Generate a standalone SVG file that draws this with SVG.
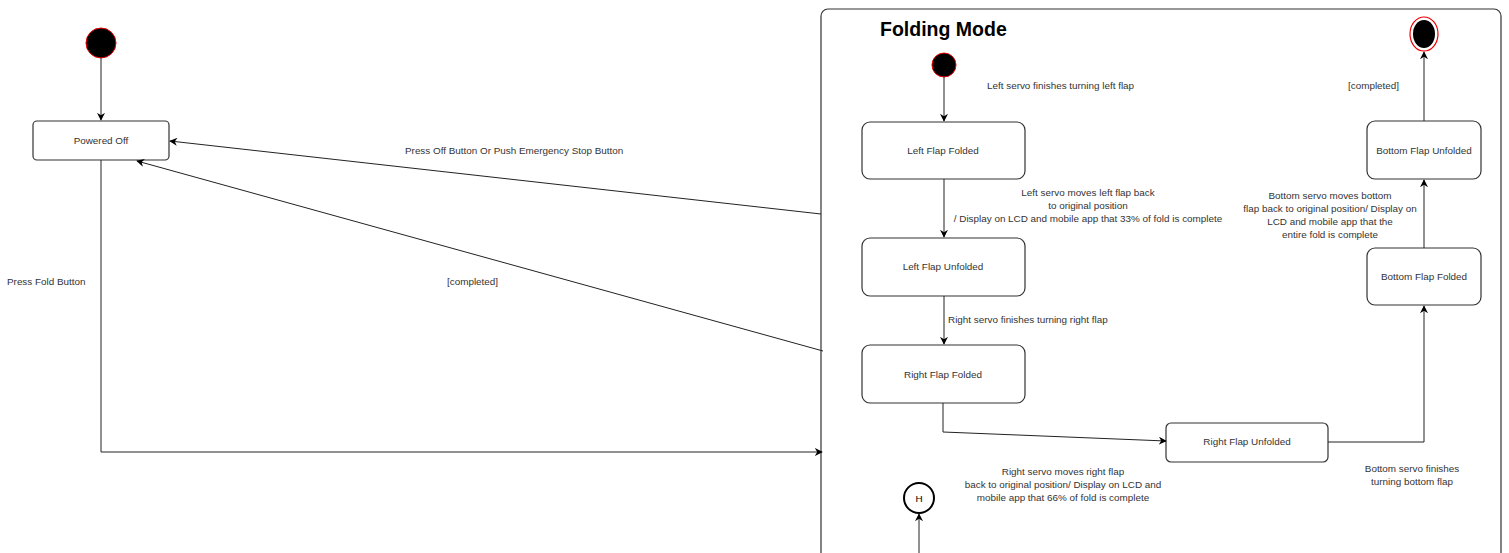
<svg xmlns="http://www.w3.org/2000/svg" width="1509" height="553" viewBox="0 0 1509 553">
<defs>
<marker id="ah" viewBox="0 0 10 10" refX="9" refY="5" markerWidth="8" markerHeight="8" markerUnits="userSpaceOnUse" orient="auto"><path d="M0,0 L10,5 L0,10 L3,5 Z" fill="#000"/></marker>
<style>
.st{fill:#fff;stroke:#333;stroke-width:1.2}
.t{font-family:"Liberation Sans",Arial,sans-serif;font-size:9.9px;fill:#333}
.c{text-anchor:middle}
.ln{fill:none;stroke:#222;stroke-width:1}
</style>
</defs>
<rect width="1509" height="553" fill="#fff"/>
<g id="folding-mode">
<rect x="821" y="9" width="680" height="560" rx="7" fill="#fff" stroke="#333" stroke-width="1.2"/>
<text x="880" y="36" font-family="Liberation Sans,Arial,sans-serif" font-size="19.5" font-weight="bold">Folding Mode</text>
</g>
<g id="init-outer"><circle cx="101" cy="43" r="15" fill="#000" stroke="#e00" stroke-width="1"/></g>
<g id="powered-off"><rect class="st" x="33" y="121" width="136" height="39" rx="4"/><text class="t c" x="101" y="144">Powered Off</text></g>
<g id="init-inner"><circle cx="944" cy="65" r="12" fill="#000" stroke="#e00" stroke-width="1"/></g>
<g id="left-flap-folded"><rect class="st" x="862" y="122" width="163" height="57" rx="8"/><text class="t c" x="943" y="154">Left Flap Folded</text></g>
<g id="left-flap-unfolded"><rect class="st" x="862" y="238" width="163" height="58" rx="8"/><text class="t c" x="943" y="270">Left Flap Unfolded</text></g>
<g id="right-flap-folded"><rect class="st" x="862" y="345" width="163" height="58" rx="8"/><text class="t c" x="943" y="378">Right Flap Folded</text></g>
<g id="right-flap-unfolded"><rect class="st" x="1166" y="423" width="162" height="39" rx="5"/><text class="t c" x="1247" y="445">Right Flap Unfolded</text></g>
<g id="bottom-flap-folded"><rect class="st" x="1367" y="248" width="114" height="57" rx="8"/><text class="t c" x="1424" y="280">Bottom Flap Folded</text></g>
<g id="bottom-flap-unfolded"><rect class="st" x="1367" y="121" width="114" height="58" rx="8"/><text class="t c" x="1424" y="154">Bottom Flap Unfolded</text></g>
<g id="final"><ellipse cx="1424" cy="34" rx="14" ry="17" fill="#fff" stroke="#e00" stroke-width="1.2"/><ellipse cx="1424" cy="34" rx="11" ry="14" fill="#000"/></g>
<g id="history"><circle cx="919" cy="498" r="15" fill="#fff" stroke="#000" stroke-width="2"/><text class="t c" x="919" y="502" style="fill:#000">H</text></g>
<g id="connectors">
<line class="ln" x1="101" y1="58" x2="101" y2="120" marker-end="url(#ah)"/>
<polyline class="ln" points="101,160 101,452 822,452" marker-end="url(#ah)"/>
<line class="ln" x1="821" y1="214" x2="170" y2="141" marker-end="url(#ah)"/>
<line class="ln" x1="823" y1="351" x2="137" y2="161" marker-end="url(#ah)"/>
<line class="ln" x1="944" y1="77" x2="944" y2="121" marker-end="url(#ah)"/>
<line class="ln" x1="944" y1="179" x2="944" y2="237" marker-end="url(#ah)"/>
<line class="ln" x1="944" y1="296" x2="944" y2="344" marker-end="url(#ah)"/>
<polyline class="ln" points="943,403 943,432 1166,441" marker-end="url(#ah)"/>
<polyline class="ln" points="1328,442 1424,442 1424,306" marker-end="url(#ah)"/>
<line class="ln" x1="1424" y1="248" x2="1424" y2="180" marker-end="url(#ah)"/>
<line class="ln" x1="1424" y1="121" x2="1424" y2="52" marker-end="url(#ah)"/>
<line class="ln" x1="919" y1="553" x2="919" y2="514" marker-end="url(#ah)"/>
</g>
<g id="labels">
<text class="t" x="7" y="285">Press Fold Button</text>
<text class="t" x="405" y="154">Press Off Button Or Push Emergency Stop Button</text>
<text class="t" x="447" y="285">[completed]</text>
<text class="t" x="987" y="89">Left servo finishes turning left flap</text>
<text class="t c" x="1088" y="196">Left servo moves left flap back</text>
<text class="t c" x="1088" y="209">to original position</text>
<text class="t c" x="1088" y="222">/ Display on LCD and mobile app that 33% of fold is complete</text>
<text class="t" x="948" y="323">Right servo finishes turning right flap</text>
<text class="t c" x="1063" y="475">Right servo moves right flap</text>
<text class="t c" x="1063" y="488">back to original position/ Display on LCD and</text>
<text class="t c" x="1063" y="501">mobile app that 66% of fold is complete</text>
<text class="t c" x="1412" y="472">Bottom servo finishes</text>
<text class="t c" x="1412" y="485">turning bottom flap</text>
<text class="t c" x="1330" y="199">Bottom servo moves bottom</text>
<text class="t c" x="1330" y="212">flap back to original position/ Display on</text>
<text class="t c" x="1330" y="225">LCD and mobile app that the</text>
<text class="t c" x="1330" y="238">entire fold is complete</text>
<text class="t" x="1348" y="89">[completed]</text>
</g>
</svg>
